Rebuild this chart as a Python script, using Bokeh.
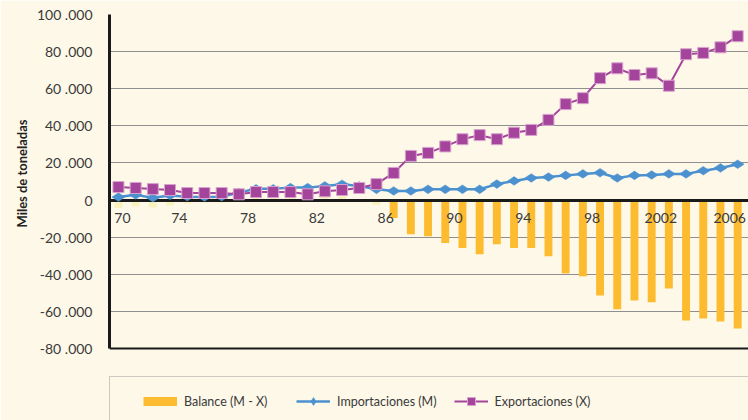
import numpy as np
from bokeh.plotting import figure
from bokeh.models import (Range1d, FixedTicker, Legend, LegendItem, ColumnDataSource, Title)
from bokeh.core.properties import value
from bokeh.embed import file_html
from bokeh.resources import INLINE

# ---------------- data ----------------
years = [1970, 1971, 1972, 1973, 1974, 1975, 1976, 1977, 1978, 1979,
         1980, 1981, 1982, 1983, 1984, 1985, 1986, 1987, 1988, 1989,
         1990, 1991, 1992, 1993, 1994, 1995, 1996, 1997, 1998, 1999,
         2000, 2001, 2002, 2003, 2004, 2005, 2006]

importaciones = [1600, 2800, 1300, 2500, 1800, 1600, 1800, 4000, 6100, 6100,
                 6700, 6700, 7600, 8500, 7600, 5800, 4900, 4900, 5800, 5800,
                 5800, 5800, 8600, 10300, 11900, 12400, 13300, 14100, 14700, 11900,
                 13300, 13500, 14100, 14100, 15800, 17300, 19300]

exportaciones = [7000, 6500, 5900, 5400, 3800, 3800, 3800, 3100, 4300, 4300,
                 4300, 3100, 4700, 5400, 6500, 8600, 14600, 23800, 25400, 28900,
                 32800, 35000, 32800, 36300, 37800, 43200, 51700, 54900, 65700, 71000,
                 67400, 68300, 61600, 78600, 79300, 82300, 88300]

balance = [-4300, -3500, -4000, -3000, -1800, -1500, -1500, 500, 1500, 1500,
           2000, 3000, 2500, 3000, 500, -2700, -9700, -18400, -19500, -23200,
           -25900, -29200, -23800, -25900, -25900, -30300, -39500, -41100, -51400, -58900,
           -54100, -55100, -47600, -64900, -63800, -65400, -69200]

y_ticks = [-80000, -60000, -40000, -20000, 0, 20000, 40000, 60000, 80000, 100000]
y_tick_labels = ["-80 .000", "-60 .000", "-40 .000", "-20 .000", "0",
                 "20 .000", "40 .000", "60 .000", "80 .000", "100 .000"]

x_tick_years = [1970, 1974, 1978, 1982, 1986, 1990, 1994, 1998, 2002, 2006]
x_tick_labels = ["70", "74", "78", "82", "86", "90", "94", "98", "2002", "2006"]

y_title = "Miles de toneladas"
legend_labels = ["Balance (M - X)", "Importaciones (M)", "Exportaciones (X)"]

# ---------------- styles ----------------
BG = "#FDF8E8"
ORANGE = "#FDBB30"
PALE = "#FAF2BE"
BLUE = "#4B91D0"
PURPLE = "#A4459B"
FONT = "Lato"
TXT = "#3a3a3a"

W, H = 748, 420
TOP, LEFT = 14, 109          # frame top / left in pixels
AXIS_BOTTOM = 348            # pixel row of the -80.000 line
Y_MIN, Y_MAX = y_ticks[0], y_ticks[-1]
px_per_unit = (AXIS_BOTTOM - TOP) / (Y_MAX - Y_MIN)
y_start = Y_MIN - (H - AXIS_BOTTOM) / px_per_unit   # frame extends under the legend

bar_colors = [ORANGE if y >= 1986 else PALE for y in years]
src = ColumnDataSource(dict(year=years, balance=balance, color=bar_colors))

p = figure(width=W, height=H, output_backend="svg", toolbar_location=None,
           x_range=Range1d(1969.48, 2006.63), y_range=Range1d(y_start, Y_MAX),
           min_border_left=LEFT, min_border_right=0, min_border_top=TOP,
           min_border_bottom=0,
           background_fill_color=BG, border_fill_color=BG, outline_line_color=None)

# grid
p.xgrid.visible = False
p.ygrid.ticker = FixedTicker(ticks=y_ticks)
p.ygrid.grid_line_color = "#8f8f8f"
p.ygrid.grid_line_width = 1

# y axis
yax = p.yaxis[0]
yax.bounds = (Y_MIN, Y_MAX)
yax.ticker = FixedTicker(ticks=y_ticks)
yax.major_label_overrides = {t: l for t, l in zip(y_ticks, y_tick_labels)}
yax.axis_line_color = "#1a1a1a"
yax.axis_line_width = 3
yax.major_tick_line_color = None
yax.minor_tick_line_color = None
yax.major_tick_out = 0
yax.major_tick_in = 0
yax.major_label_standoff = 17
yax.major_label_text_font = FONT
yax.major_label_text_font_size = "14px"
yax.major_label_text_color = TXT

# y title, placed beside the axis span (not the whole frame)
ttl = Title(text=y_title, align="right", offset=105, standoff=8,
            text_font=FONT, text_font_size="13px", text_font_style="bold",
            text_color="#222222")
p.add_layout(ttl, "left")

p.xaxis.visible = False

# bars
p.vbar(x="year", top="balance", bottom=0, width=0.46, fill_color="color",
       line_color=None, source=src)

# zero line and bottom line of the plot area
p.hspan(y=[0], line_color="#1a1a1a", line_width=3)
p.hspan(y=[Y_MIN], line_color="#1a1a1a", line_width=2)

# lines
imp_line = p.line(years, importaciones, line_color=BLUE, line_width=2.5)
imp_pts = p.scatter(years, importaciones, marker="diamond", size=13, angle=np.pi / 2,
                    fill_color=BLUE, line_color=BLUE, line_width=0.5)
exp_line = p.line(years, exportaciones, line_color=PURPLE, line_width=2)
exp_pts = p.scatter(years, exportaciones, marker="square", size=11,
                    fill_color=PURPLE, line_color="#D9A3CF", line_width=1)

# x tick labels along the zero line
xoff = [4 if i == 0 else -8 for i in range(len(x_tick_years))]
p.text(x=x_tick_years, y=[0] * len(x_tick_years), text=x_tick_labels,
       x_offset=xoff, y_offset=13, text_align="center", text_baseline="top",
       text_font=value(FONT), text_font_size=value("14px"), text_color=TXT)

# legend swatches
bal_leg = p.line(x=[np.nan], y=[np.nan], line_color=ORANGE, line_width=9)
pad_leg = p.line(x=[np.nan], y=[np.nan], line_alpha=0)

legend = Legend(items=[LegendItem(label=legend_labels[0], renderers=[bal_leg]),
                       LegendItem(label=legend_labels[1], renderers=[imp_line, imp_pts]),
                       LegendItem(label=legend_labels[2], renderers=[exp_line, exp_pts]),
                       LegendItem(label=" ", renderers=[pad_leg])],
                location=(0, -6), orientation="horizontal",
                title=" ", title_location="left", title_text_font_size="1px",
                title_standoff=18,
                glyph_width=34, glyph_height=20, label_standoff=7, label_width=95,
                spacing=17, padding=14, margin=0,
                border_line_color="#9c9c9c", border_line_width=1.5,
                background_fill_color=BG, background_fill_alpha=1.0,
                label_text_font=FONT, label_text_font_size="12.5px", label_text_color=TXT)
p.add_layout(legend, "center")

open("out.html", "w").write(file_html(p, INLINE))
